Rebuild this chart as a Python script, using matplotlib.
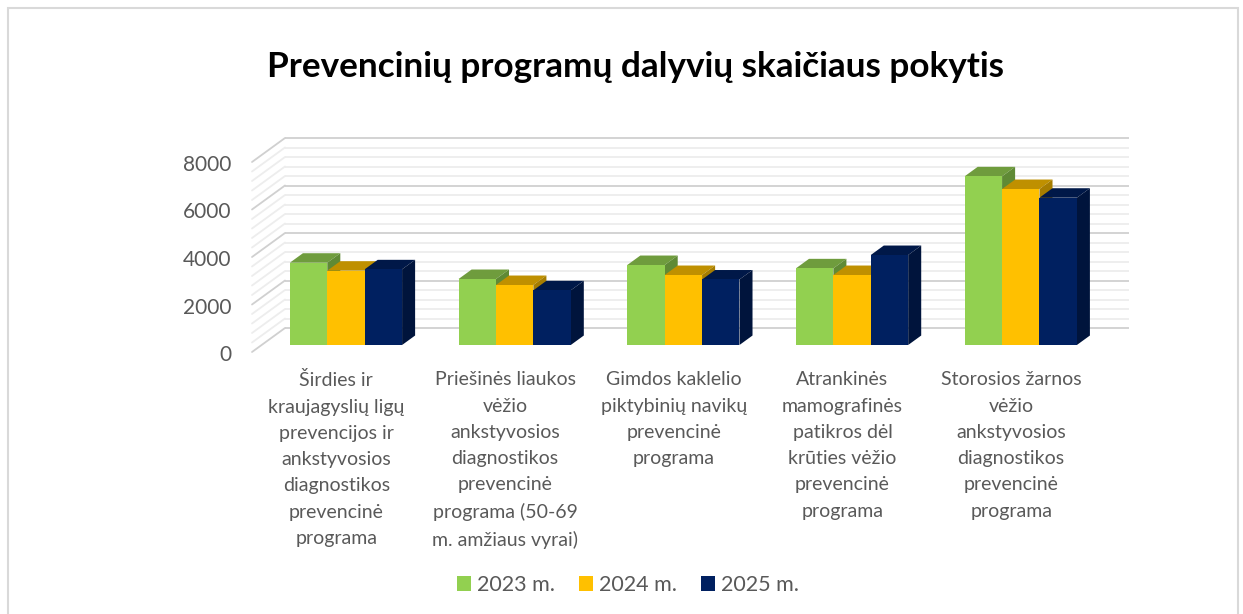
import matplotlib
matplotlib.use("Agg")
import matplotlib.pyplot as plt
from matplotlib.patches import Polygon, Rectangle
from matplotlib.transforms import Affine2D

plt.rcParams['font.family'] = ['Lato', 'DejaVu Sans']

title = "Prevencinių programų dalyvių skaičiaus pokytis"
categories = [
    "Širdies ir\nkraujagyslių ligų\nprevencijos ir\nankstyvosios\ndiagnostikos\nprevencinė\nprograma",
    "Priešinės liaukos\nvėžio\nankstyvosios\ndiagnostikos\nprevencinė\nprograma (50-69\nm. amžiaus vyrai)",
    "Gimdos kaklelio\npiktybinių navikų\nprevencinė\nprograma",
    "Atrankinės\nmamografinės\npatikros dėl\nkrūties vėžio\nprevencinė\nprograma",
    "Storosios žarnos\nvėžio\nankstyvosios\ndiagnostikos\nprevencinė\nprograma",
]
series_names = ["2023 m.", "2024 m.", "2025 m."]
values_2023 = [3465, 2779, 3368, 3229, 7103]
values_2024 = [3130, 2526, 2947, 2947, 6568]
values_2025 = [3187, 2303, 2758, 3789, 6202]
y_major = [0, 2000, 4000, 6000, 8000]
y_minor = [400, 800, 1200, 1600, 2400, 2800, 3200, 3600, 4400, 4800, 5200, 5600,
           6400, 6800, 7200, 7600]

front_colors = ["#92D050", "#FFC000", "#002060"]
top_colors = ["#6F9C3D", "#BF9000", "#001848"]
side_colors = ["#5F8A35", "#A67D00", "#00143C"]
TEXT = "#595959"

W, H = 1243, 614
fig = plt.figure(figsize=(W / 100, H / 100), dpi=100, facecolor="white")

# axes = the floor's front edge of the box
left_px, right_px, floor_px, top_px = 252, 1095.5, 352, 162
ax = fig.add_axes([left_px / W, 1 - floor_px / H, (right_px - left_px) / W, (floor_px - top_px) / H])
ax.set_xlim(-0.5, 4.5)
ax.set_ylim(0, 8000)
ax.patch.set_visible(False)
for s in ax.spines.values():
    s.set_visible(False)

# frame of the embedded chart
fig.add_artist(Rectangle((8 / W, -0.1), (1238 - 8) / W, 1.1 - 8 / H, transform=fig.transFigure,
                         fill=False, ec="#D9D9D9", lw=1.5))

DX, DY = 33.0, 24.0      # oblique depth of the box in px


def plane(d):
    return ax.transData + Affine2D().translate(DX * d, DY * d)


front = plane(7 / 24)
back = plane(1)

# walls
for vals, col, lw in ((y_minor, "#EDEDED", 1.3), (y_major, "#D0D0D0", 1.3)):
    for v in vals:
        ax.plot([-0.5, 4.5], [v, v], color=col, lw=lw, transform=back, clip_on=False, zorder=1,
                solid_capstyle="butt")
        p0 = ax.transData.transform((-0.5, v))
        ax.annotate("", xy=(p0[0] + DX, p0[1] + DY), xytext=tuple(p0), xycoords="figure pixels",
                    textcoords="figure pixels",
                    arrowprops=dict(arrowstyle="-", color=col, lw=lw, shrinkA=0, shrinkB=0), zorder=1)

# bars
bar_w = 0.2217
bd = 0.395     # bar depth as a fraction of the box
all_vals = [values_2023, values_2024, values_2025]
rear = plane(7 / 24 + bd)
inv = ax.transData.inverted()


def f(x, y):
    return tuple(inv.transform(front.transform((x, y))))


def r(x, y):
    return tuple(inv.transform(rear.transform((x, y))))


for s, vals in enumerate(all_vals):
    offs = (s - 1) * bar_w
    for i, v in enumerate(vals):
        x0 = i + offs - bar_w / 2
        x1 = x0 + bar_w
        z = 3 + s
        ax.add_patch(Polygon([f(x0, v), f(x1, v), r(x1, v), r(x0, v)], closed=True,
                             fc=top_colors[s], ec="none", zorder=z, clip_on=False))
        ax.add_patch(Polygon([f(x1, 0), f(x1, v), r(x1, v), r(x1, 0)], closed=True,
                             fc=side_colors[s], ec="none", zorder=z, clip_on=False))
        ax.bar(i + offs, v, width=bar_w, color=front_colors[s], transform=front, zorder=z,
               clip_on=False, label=series_names[s] if i == 0 else None)

# y axis
ax.set_yticks(y_major)
ax.set_yticklabels([str(v) for v in y_major], fontsize=15, color=TEXT)
ax.tick_params(axis="y", length=0, pad=15)
for lbl in ax.get_yticklabels():
    lbl.set_transform(lbl.get_transform() + Affine2D().translate(0, -1))

# x axis
ax.set_xticks(range(len(categories)))
ax.set_xticklabels(categories, fontsize=14, color=TEXT, linespacing=1.66, va="top")
ax.tick_params(axis="x", length=0, pad=14)

fig.text(635.5 / W, 1 - 67 / H, title, ha="center", va="center", fontsize=25.25,
         fontweight="bold", color="black")

handles, labels = ax.get_legend_handles_labels()
leg = fig.legend(handles, labels, loc="center", bbox_to_anchor=(628 / W, 1 - 585 / H), ncol=3,
                 frameon=False, fontsize=15.5, handlelength=0.65, handleheight=0.65,
                 handletextpad=0.28, columnspacing=1.1, labelcolor=TEXT)

fig.savefig("out.png", dpi=100)
